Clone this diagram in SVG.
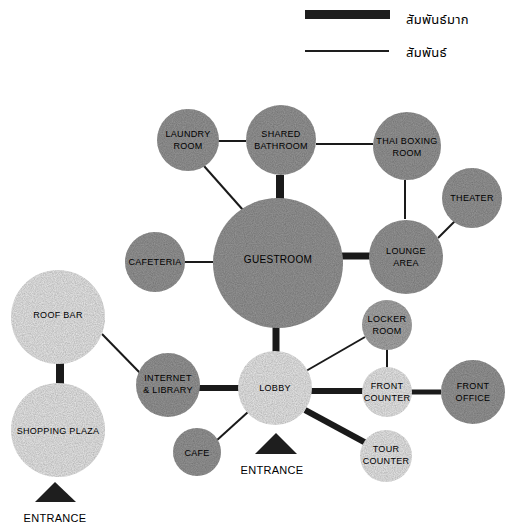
<svg xmlns="http://www.w3.org/2000/svg" width="509" height="531" viewBox="0 0 509 531">
<defs>
<filter id="grain" x="0" y="0" width="100%" height="100%">
<feTurbulence type="fractalNoise" baseFrequency="0.9" numOctaves="2" seed="3" result="n"/>
<feColorMatrix in="n" type="matrix" values="0 0 0 0 0  0 0 0 0 0  0 0 0 0 0  0 0 0 0.55 -0.1" result="dots"/>
<feComposite in="dots" in2="SourceGraphic" operator="in" result="d2"/>
<feMerge><feMergeNode in="SourceGraphic"/><feMergeNode in="d2"/></feMerge>
</filter>
</defs>
<style>
.dark{fill:#929292;filter:url(#grain)}
.mid{fill:#a2a2a2;filter:url(#grain)}
.light{fill:#e2e2e2;filter:url(#grain)}
.thin{stroke:#1a1a1a;stroke-width:2;fill:none}
.thick{stroke:#1a1a1a;stroke-width:7;fill:none}
text{font-family:"Liberation Sans",Arial,sans-serif;font-size:9px;fill:#000;text-anchor:middle;letter-spacing:0.3px}
.th{font-family:"Noto Sans Thai","Noto Sans","DejaVu Sans",sans-serif;font-size:13px;text-anchor:start}
.ent{font-size:11px}
</style>
<rect width="509" height="531" fill="#ffffff"/>
<g id="legend">
<rect x="305" y="10" width="85" height="9" fill="#1e1e1e"/>
<text class="th" x="406" y="24">สัมพันธ์มาก</text>
<line x1="305" y1="51" x2="389" y2="51" stroke="#1e1e1e" stroke-width="2"/>
<text class="th" x="406" y="57">สัมพันธ์</text>
</g>
<g id="connectors">
<line class="thin" x1="218" y1="141" x2="246" y2="141"/>
<line class="thin" x1="204" y1="166" x2="243" y2="210"/>
<line class="thin" x1="316" y1="144" x2="373" y2="144"/>
<line class="thin" x1="405" y1="180" x2="405" y2="219"/>
<line class="thin" x1="438" y1="238" x2="455" y2="221"/>
<line class="thin" x1="184" y1="262" x2="213" y2="262"/>
<line class="thin" x1="102" y1="334" x2="141" y2="374"/>
<line class="thin" x1="306" y1="371" x2="365" y2="337"/>
<line class="thin" x1="387" y1="349" x2="387" y2="368"/>
<line class="thin" x1="248" y1="412" x2="216" y2="441"/>
<line class="thick" x1="280" y1="175" x2="280" y2="199" style="stroke-width:8"/>
<line class="thick" x1="342" y1="256" x2="370" y2="256"/>
<line class="thick" x1="276" y1="326" x2="276" y2="352"/>
<line class="thick" x1="199" y1="388" x2="239" y2="388" style="stroke-width:6"/>
<line class="thick" x1="311" y1="391" x2="363" y2="391" style="stroke-width:6"/>
<line class="thick" x1="411" y1="392" x2="441" y2="392" style="stroke-width:5"/>
<line class="thick" x1="305" y1="410" x2="366" y2="443" style="stroke-width:6"/>
<line class="thick" x1="60" y1="362" x2="60" y2="386" style="stroke-width:8"/>
</g>
<g id="laundry"><circle class="dark" cx="188" cy="140" r="31"/><text x="188" y="137">LAUNDRY</text><text x="188" y="149">ROOM</text></g>
<g id="shared"><circle class="dark" cx="281" cy="140" r="35"/><text x="281" y="137">SHARED</text><text x="281" y="149">BATHROOM</text></g>
<g id="thaiboxing"><circle class="dark" cx="407" cy="146" r="34"/><text x="407" y="144">THAI BOXING</text><text x="407" y="156">ROOM</text></g>
<g id="theater"><circle class="dark" cx="472" cy="198" r="30"/><text x="472" y="201">THEATER</text></g>
<g id="lounge"><circle class="dark" cx="406" cy="257" r="37"/><text x="406" y="254">LOUNGE</text><text x="406" y="266">AREA</text></g>
<g id="guestroom"><circle class="dark" cx="278" cy="263" r="65"/><text x="278" y="263" style="font-size:10px">GUESTROOM</text></g>
<g id="cafeteria"><circle class="dark" cx="155" cy="262" r="30"/><text x="155" y="265">CAFETERIA</text></g>
<g id="roofbar"><circle class="light" cx="58" cy="317" r="47"/><text x="58" y="318">ROOF BAR</text></g>
<g id="shopping"><circle class="light" cx="58" cy="430" r="47"/><text x="58" y="434">SHOPPING PLAZA</text></g>
<g id="internet"><circle class="dark" cx="168" cy="385" r="32"/><text x="168" y="381">INTERNET</text><text x="168" y="393">&amp; LIBRARY</text></g>
<g id="cafe"><circle class="dark" cx="197" cy="452" r="24"/><text x="197" y="456">CAFE</text></g>
<g id="lobby"><circle class="light" cx="275" cy="388" r="37"/><text x="275" y="391">LOBBY</text></g>
<g id="locker"><circle class="mid" cx="387" cy="325" r="25"/><text x="387" y="322">LOCKER</text><text x="387" y="334">ROOM</text></g>
<g id="frontcounter"><circle class="light" cx="387" cy="392" r="25"/><text x="387" y="389">FRONT</text><text x="387" y="401">COUNTER</text></g>
<g id="frontoffice"><circle class="dark" cx="473" cy="392" r="32"/><text x="473" y="389">FRONT</text><text x="473" y="401">OFFICE</text></g>
<g id="tourcounter"><circle class="light" cx="386" cy="456" r="26"/><text x="386" y="452">TOUR</text><text x="386" y="464">COUNTER</text></g>
<g id="entrance1"><polygon points="55,482 35,502 76,502" fill="#1e1e1e"/><text class="ent" x="55" y="522">ENTRANCE</text></g>
<g id="entrance2"><polygon points="276,433 255,454 297,454" fill="#1e1e1e"/><text class="ent" x="272" y="474">ENTRANCE</text></g>
</svg>
